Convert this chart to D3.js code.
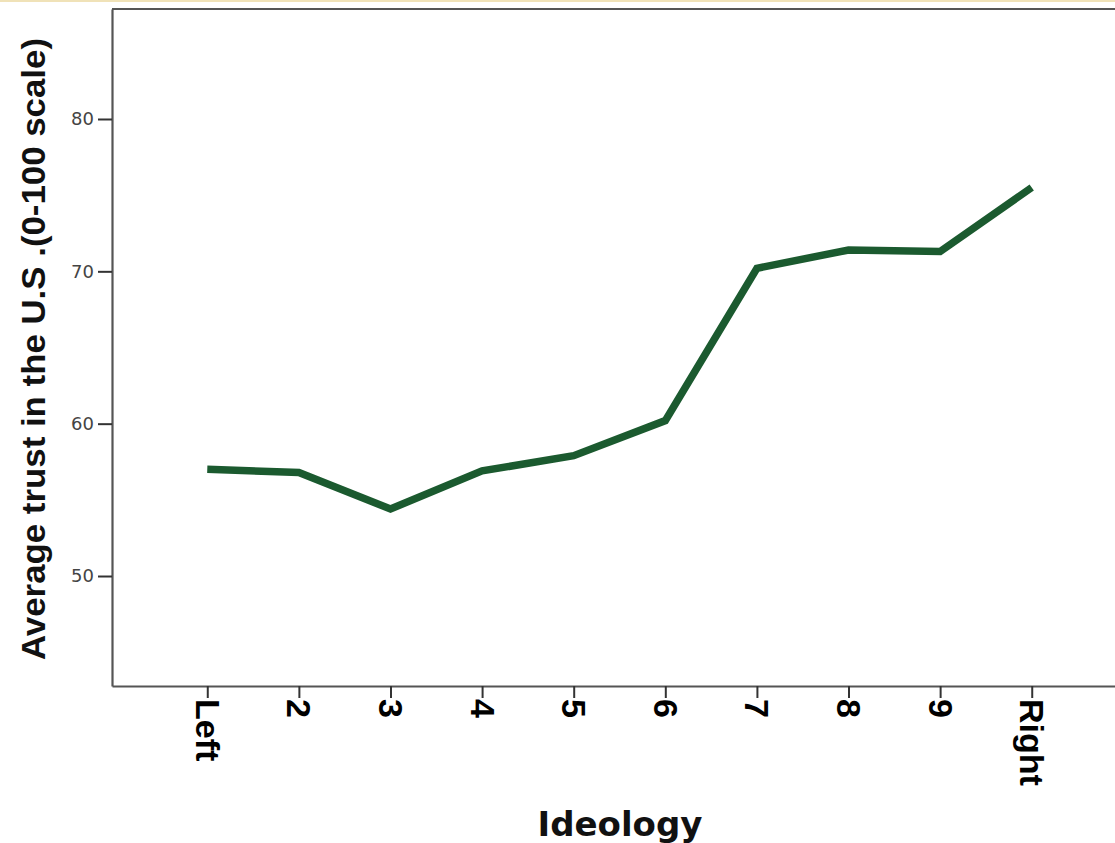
<!DOCTYPE html>
<html><head><meta charset="utf-8">
<script src="https://cdn.jsdelivr.net/npm/d3@7"></script>
<style>body{margin:0;background:#fff}svg{display:block}</style>
</head><body>
<svg id="c" width="1115" height="843"></svg>
<script>
const categories = ["Left","2","3","4","5","6","7","8","9","Right"];
const trustValues = [57.0, 56.8, 54.4, 56.9, 57.9, 60.2, 70.2, 71.4, 71.3, 75.5];
const yTicks = [50, 60, 70, 80];

const svg = d3.select("#c");
const L = 112, T = 9, R = 1127, B = 686;

// faint top band
svg.append("rect").attr("x",0).attr("y",0).attr("width",1115).attr("height",2).attr("fill","#f0e2b8");

const x = d3.scalePoint().domain(categories).range([L, R]).padding(1.04);
const y = d3.scaleLinear().domain([42.78, 87.22]).range([B, T]);

// frame top
svg.append("line").attr("x1",L).attr("x2",1115).attr("y1",T).attr("y2",T)
  .attr("stroke","#555").attr("stroke-width",2.2);

const yAxis = svg.append("g").attr("transform",`translate(${L},0)`)
  .call(d3.axisLeft(y).tickValues(yTicks).tickSize(14).tickPadding(4).tickSizeOuter(0));
yAxis.select(".domain").attr("stroke","#555").attr("stroke-width",2.2);
yAxis.selectAll(".tick line").attr("stroke","#333").attr("stroke-width",2);
yAxis.selectAll("text").attr("font-family","DejaVu Sans, Verdana, sans-serif")
  .attr("font-size",18).attr("fill","#444");

const xAxis = svg.append("g").attr("transform",`translate(0,${B})`)
  .call(d3.axisBottom(x).tickSize(12).tickSizeOuter(0));
xAxis.select(".domain").attr("stroke","#555").attr("stroke-width",2.2);
xAxis.selectAll(".tick line").attr("stroke","#333").attr("stroke-width",2);
xAxis.selectAll("text")
  .attr("font-family","Liberation Sans, Arial, sans-serif")
  .attr("font-weight","bold").attr("font-size",34).attr("fill","#000")
  .attr("text-anchor","start").attr("dy",null)
  .attr("transform","translate(0,13) rotate(90)")
  .attr("x",0).attr("y",0).attr("dominant-baseline","central");

const line = d3.line().x((d,i)=>x(categories[i])).y(d=>y(d)).curve(d3.curveLinear);
svg.append("path").datum(trustValues).attr("d",line)
  .attr("fill","none").attr("stroke","#1b5a2f").attr("stroke-width",7.5)
  .attr("stroke-linejoin","miter");

svg.append("text").attr("transform","translate(45,349) rotate(-90)")
  .attr("text-anchor","middle")
  .attr("font-family","Liberation Sans, Arial, sans-serif")
  .attr("font-weight","bold").attr("font-size",33).attr("fill","#111")
  .attr("textLength",622).attr("lengthAdjust","spacingAndGlyphs")
  .text("Average trust in the U.S .(0-100 scale)");

svg.append("text").attr("x",620).attr("y",836).attr("text-anchor","middle")
  .attr("font-family","DejaVu Sans, Verdana, sans-serif")
  .attr("font-weight","bold").attr("font-size",34).attr("fill","#111")
  .text("Ideology");
</script>
</body></html>
